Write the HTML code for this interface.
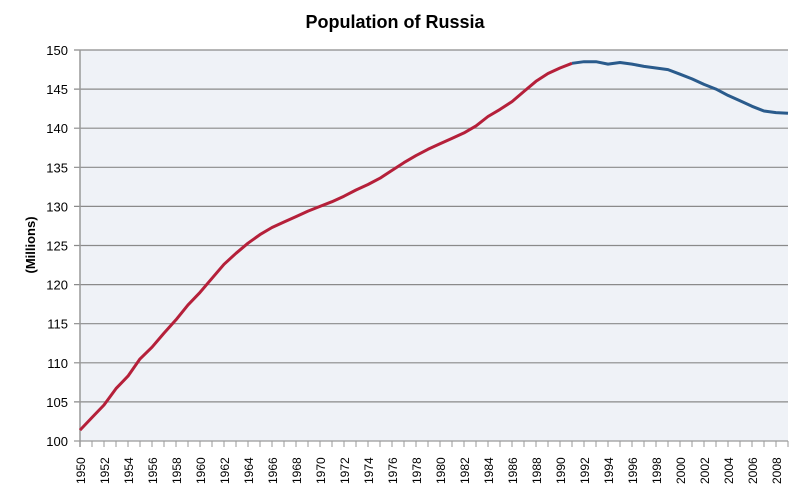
<!DOCTYPE html>
<html><head><meta charset="utf-8"><style>
body{margin:0;background:#fff;font-family:"Liberation Sans",Arial,sans-serif}
</style></head><body>
<svg id="chart" width="800" height="494" xmlns="http://www.w3.org/2000/svg">
<text x="395" y="28" text-anchor="middle" font-size="18" font-weight="bold" fill="#000">Population of Russia</text>
<text transform="translate(35,245) rotate(-90)" text-anchor="middle" font-size="13" font-weight="bold" fill="#000">(Millions)</text>
<rect x="80" y="50" width="708" height="391" fill="#eff2f7"/>
<g id="grid"></g><g id="axes"></g><g id="series"></g>
</svg>
<script>
const years=[];for(let y=1950;y<=2009;y++)years.push(y);
const populationValues=[101.4,103,104.6,106.7,108.3,110.5,112,113.8,115.5,117.4,119,120.8,122.6,124,125.3,126.4,127.3,128,128.7,129.4,130,130.6,131.3,132.1,132.8,133.6,134.6,135.6,136.5,137.3,138,138.7,139.4,140.3,141.5,142.4,143.4,144.7,146,147,147.7,148.3,148.5,148.5,148.2,148.4,148.2,147.9,147.7,147.5,146.9,146.3,145.6,145,144.2,143.5,142.8,142.2,142,141.9];
const yTicks=[100,105,110,115,120,125,130,135,140,145,150];
const splitYear=1991;
const NS="http://www.w3.org/2000/svg";
const X0=80,X1=788,Y0=441,Y1=50;
const xs=y=>X0+(y-1950)/(2009-1950)*(X1-X0);
const ys=v=>Y0-(v-100)/50*(Y0-Y1);
function mk(t,a,p){const e=document.createElementNS(NS,t);for(const k in a)e.setAttribute(k,a[k]);p.appendChild(e);return e;}
const grid=document.getElementById('grid'),axes=document.getElementById('axes'),ser=document.getElementById('series');
yTicks.forEach(v=>{
 const l=mk('line',{x1:X0-6,x2:X1,y1:ys(v),y2:ys(v),stroke:v===100?'#999':'#8a8a8a','stroke-width':1.2},grid);
 
 
 const t=mk('text',{x:X0-12,y:ys(v)+5,'text-anchor':'end','font-size':13,fill:'#000'},axes);
 t.textContent=v;
 
 
});
const ax=mk('line',{x1:X0,x2:X0,y1:Y1,y2:Y0+6,stroke:'#999','stroke-width':1.5},axes);


years.forEach(y=>{
 const tk=mk('line',{x1:xs(y),x2:xs(y),y1:Y0,y2:Y0+6,stroke:'#999','stroke-width':1},axes);
 
 
});
years.forEach(y=>{
 if((y-1950)%2)return;
 const t=mk('text',{transform:`translate(${xs(y)+5},${Y0+43}) rotate(-90)`,'font-size':12,fill:'#000'},axes);
 t.textContent=y;
 
 
});
function path(filter,color,name){
 const pts=years.map((y,i)=>[y,populationValues[i]]).filter(filter);
 const p=mk('path',{d:pts.map((q,i)=>(i?'L':'M')+xs(q[0]).toFixed(1)+','+ys(q[1]).toFixed(1)).join(''),fill:'none',stroke:color,'stroke-width':3,'stroke-linejoin':'round'},ser);
 
 
}
path(q=>q[0]<=splitYear,'#b5203a','population-line-growth');
path(q=>q[0]>=splitYear,'#2a5b8c','population-line-decline');
</script>
</body></html>
